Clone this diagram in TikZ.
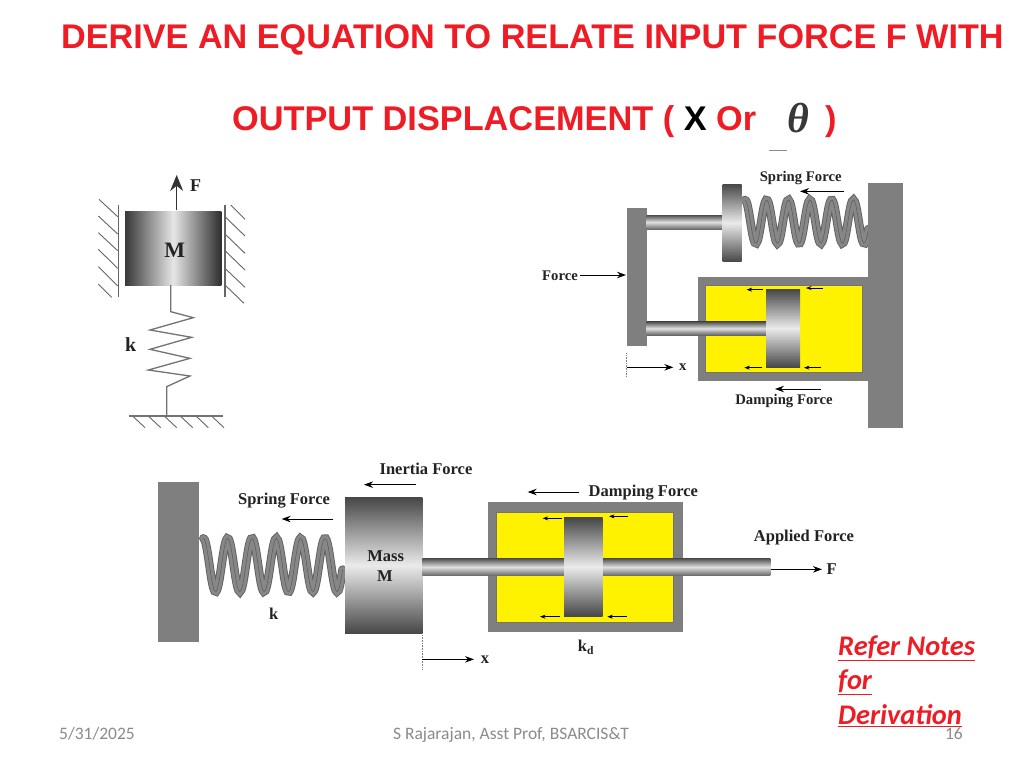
\documentclass[tikz,border=0pt]{standalone}
\usepackage{fontspec}
\setmainfont{Liberation Serif}
\newfontfamily\headfont{Liberation Sans}
\newfontfamily\notefont{Carlito}
\usetikzlibrary{arrows.meta}
\definecolor{steel}{HTML}{7F7F7F}
\definecolor{oil}{HTML}{FFF200}
\definecolor{headred}{HTML}{EE1C25}
\definecolor{foot}{HTML}{8B8B8B}
\definecolor{inkdark}{HTML}{222222}
\tikzset{
  solid block/.style={fill=steel,draw=none},
  housing/.style={fill=steel,draw=none},
  oilfill/.style={fill=oil,draw=black!55,line width=0.5pt},
  vshade/.style={top color=black!72,bottom color=black!72,middle color=black!8,draw=none},
  hshade/.style={left color=black!78,right color=black!82,middle color=black!10,draw=none},
  rodshade/.style={top color=black!70,bottom color=black!60,middle color=black!12,draw=none},
  forcearrow/.style={draw=black,line width=1pt,-{Stealth[length=9pt,width=6.5pt]}},
  smallarrow/.style={draw=black,line width=0.6pt,-{Stealth[length=5.5pt,width=4pt]}},
  thinline/.style={draw=black!55,line width=1.3pt},
  wallline/.style={draw=black!60,line width=1.5pt},
  hatch/.style={draw=black!60,line width=0.9pt},
  lab/.style={text=inkdark,font=\bfseries\fontsize{14.7}{17}\selectfont,inner sep=0pt},
  biglab/.style={text=inkdark,font=\bfseries\fontsize{16.5}{19}\selectfont,inner sep=0pt},
  title/.style={text=headred,font=\headfont\bfseries\fontsize{34.2}{38}\selectfont,inner sep=0pt,anchor=west},
  subtitle/.style={text=headred,font=\headfont\bfseries\fontsize{34.3}{38}\selectfont,inner sep=0pt,anchor=west},
  note/.style={text=headred,font=\notefont\bfseries\itshape\fontsize{28.4}{34}\selectfont,inner sep=0pt,anchor=west},
  footer/.style={text=foot,font=\notefont\fontsize{17.5}{20}\selectfont,inner sep=0pt,anchor=base},
  dotted edge/.style={draw=black!50,line width=0.6pt,densely dotted},
}
% x0, pitch, cycles*360, mid, amplitude
\newcommand{\coilspring}[5]{%
  \draw[line width=8.6pt,draw=black!62,line cap=round] plot[smooth,samples=100,domain=0:#3,variable=\t] ({#1+#2*(\t/360)},{#4-#5*cos(\t)});
  \draw[line width=6.8pt,draw=black!47,line cap=round] plot[smooth,samples=100,domain=0:#3,variable=\t] ({#1+#2*(\t/360)},{#4-#5*cos(\t)});
  \draw[line width=0.5pt,draw=black!65] plot[smooth,samples=100,domain=0:#3,variable=\t] ({#1+#2*(\t/360)},{#4-#5*cos(\t)});
}
\begin{document}
\begin{tikzpicture}[x=1pt,y=-1pt]
\useasboundingbox (0,0) rectangle (1024,768);
\fill[white] (0,0) rectangle (1024,768);

% headings
\node[title] (t1) at (61,40) {DERIVE AN EQUATION TO RELATE INPUT FORCE F WITH};
\node[subtitle] (t2) at (232,122) {OUTPUT DISPLACEMENT ( \textcolor{black}{X} Or};
\node[subtitle] (t3) at (825,122) {)};
\node[text=black!78,inner sep=0pt,font=\bfseries\itshape\fontsize{42}{44}\selectfont] (th) at (798,118) {θ};
\draw[draw=black!45,line width=1pt] (769,150) -- (787,150);

% ---------- figure 1
\begin{scope}[shift={(80,160)},scale=1/3]
  \foreach \a/\b/\c/\d in {57/118/113/170,55/168/113/222,55/218/113/272,55/268/113/325,55/320/113/378,55/372/95/412,
    452/135/495/178,435/170/495/228,435/222/495/280,435/272/495/330,435/325/495/382,435/375/492/430}
    \draw[hatch] (\a,\b) -- (\c,\d);
  \draw[wallline] (115,135) -- (115,412);
  \draw[wallline] (435,135) -- (435,412);
  \path[hshade] (135,153) rectangle (424,375);
  \draw[thinline] (272,375) -- (272,455) -- (340,473) -- (210,510) -- (335,532) -- (210,568) -- (330,595) -- (205,630) -- (330,648) -- (260,680) -- (260,768);
  \draw[thinline] (148,768) -- (430,768);
  \foreach \a in {160,207,255,303,350,397}
    \draw[hatch] (\a,770) -- (\a+35,803);
  \draw[draw=black!80,line width=1.2pt,-{Stealth[length=16pt,width=13pt]}] (290,150) -- (290,45);
  \node[biglab] (m1) at (284,270) {\fontsize{22}{24}\selectfont M};
  \node[biglab] (f1) at (347,78) {\fontsize{18}{20}\selectfont F};
  \node[biglab] (k1) at (152,553) {\fontsize{20}{22}\selectfont k};
\end{scope}

% ---------- figure 2
\begin{scope}[shift={(530,160)},scale=1/3]
  \coilspring{645}{65}{2050}{185}{65}
  \path[solid block] (1015,70) rectangle (1120,805);
  \path[housing] (505,350) rectangle (1016,662);
  \path[oilfill] (527,375) rectangle (998,638);
  \path[solid block] (290,145) rectangle (350,558);
  \path[rodshade] (350,165) rectangle (578,208);
  \path[vshade] (578,72) rectangle (635,305);
  \path[rodshade] (350,485) rectangle (708,525);
  \path[vshade] (708,388) rectangle (810,622);
  \node[lab] (sf2) at (812,54) {Spring Force};
  \draw[forcearrow] (943,94) -- (810,94);
  \node[lab] (ff2) at (90,347) {Force};
  \draw[forcearrow] (150,345) -- (288,345);
  \draw[smallarrow] (700,389) -- (650,389);
  \draw[smallarrow] (878,384) -- (828,384);
  \draw[smallarrow] (695,623) -- (643,623);
  \draw[smallarrow] (873,623) -- (822,623);
  \draw[dotted edge] (290,580) -- (290,650);
  \draw[forcearrow] (290,622) -- (430,622);
  \node[lab] (x2) at (458,622) {x};
  \draw[forcearrow] (873,687) -- (735,687);
  \node[lab] (df2) at (762,724) {Damping Force};
\end{scope}

% ---------- figure 3
\begin{scope}[shift={(150,450)},scale=1/3]
  \coilspring{160}{73}{2060}{345}{80}
  \path[solid block] (25,97) rectangle (147,577);
  \path[housing] (1015,156) rectangle (1600,547);
  \path[oilfill] (1040,187) rectangle (1570,518);
  \path[vshade] (585,142) rectangle (817,550);
  \path[rodshade] (817,325) rectangle (1861,377);
  \path[vshade] (1242,203) rectangle (1358,498);
  \node[biglab] (m3a) at (707,319) {Mass};
  \node[biglab] (m3b) at (705,377) {M};
  \node[biglab] (if3) at (828,57) {Inertia Force};
  \draw[forcearrow] (797,104) -- (642,104);
  \node[biglab] (sf3) at (402,153) {Spring Force};
  \draw[forcearrow] (550,207) -- (395,207);
  \node[biglab] (k3) at (371,492) {k};
  \draw[dotted edge] (817,550) -- (817,660);
  \draw[forcearrow] (817,628) -- (972,628);
  \node[biglab] (x3) at (1005,628) {x};
\end{scope}

% ---------- figure 3, right part
\begin{scope}[shift={(480,470)},scale=1/3]
  \node[biglab] (df4) at (490,67) {Damping Force};
  \draw[forcearrow] (298,66) -- (143,66);
  \draw[smallarrow] (245,145) -- (188,145);
  \draw[smallarrow] (444,139) -- (387,139);
  \draw[smallarrow] (240,440) -- (180,440);
  \draw[smallarrow] (440,440) -- (382,440);
  \node[biglab] (af4) at (972,202) {Applied Force};
  \draw[forcearrow] (872,298) -- (1026,298);
  \node[biglab] (f4) at (1055,296) {F};
  \node[biglab,anchor=base] (kd4) at (318,545) {k$_{\mathbf{d}}$};
\end{scope}

% ---------- note and footer
\node[note] (n1) at (838,648) {\underline{Refer Notes}};
\node[note] (n2) at (838,682) {\underline{for}};
\node[note] (n3) at (838,715.5) {\underline{Derivation}};
\node[footer,anchor=base west] (d) at (59,739) {5/31/2025};
\node[footer] (a) at (511,739) {S Rajarajan, Asst Prof, BSARCIS\&T};
\node[footer,anchor=base east] (p) at (963,739) {16};
\end{tikzpicture}
\end{document}
